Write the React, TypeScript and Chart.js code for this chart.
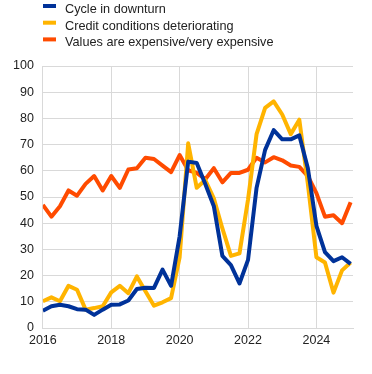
import React, { useEffect, useRef } from "react";
import { Chart, registerables } from "chart.js";

Chart.register(...registerables);

const quarters: number[] = [];
for (let y = 2016; y <= 2025; y++) {
  for (let q = 0; q < 4; q++) {
    if (y === 2025 && q > 0) break;
    quarters.push(y + q / 4);
  }
}

const seriesLabels = [
  "Cycle in downturn",
  "Credit conditions deteriorating",
  "Values are expensive/very expensive",
];

const cycleDownturn = [
  6.6, 8.3, 8.9, 8.3, 7.2, 7, 5, 7, 8.9, 9, 10.5, 14.9, 15.4, 15.3, 22.3, 16.1,
  35, 63.5, 63, 55, 46.5, 27.5, 24, 17, 26, 53.5, 68, 75.5, 72, 72, 73.5, 61,
  39, 29, 25.5, 27, 24.5,
];

const creditDeteriorating = [
  10.2, 11.7, 10.2, 16.1, 14.6, 7, 7.6, 8.3, 13.6, 16.1, 13.3, 19.7, 14, 8.5, 9.8, 11.4,
  27, 70.5, 53.5, 56.5, 49.5, 38, 27.5, 28.5, 49, 74, 84, 86.5, 81.5, 74, 79.5, 55,
  27, 25, 13.5, 22, 25,
];

const valuesExpensive = [
  47, 42.5, 46.5, 52.5, 50.5, 55, 58, 52.5, 58, 53.5, 60.5, 61, 65, 64.5, 62, 59.5,
  66, 60.2, 59.2, 56.8, 61, 55.6, 59.2, 59.2, 60.4, 65, 63.2, 65.2, 64, 62, 61.5, 58,
  51.5, 42.5, 43, 40, 48,
];

const colors = ["#003299", "#ffb400", "#ff4b00"];

const xTicks = [2016, 2018, 2020, 2022, 2024];

const FONT = "'Liberation Sans', Arial, sans-serif";

const legendPlugin = {
  id: "customLegend",
  afterDraw(chart: any) {
    const ctx = chart.ctx;
    ctx.save();
    ctx.font = `12.7px ${FONT}`;
    ctx.textBaseline = "middle";
    ctx.textAlign = "left";
    chart.data.datasets.forEach((ds: any, i: number) => {
      const cy = 9.5 + i * 16.7;
      ctx.fillStyle = ds.borderColor;
      ctx.fillRect(43, cy - 5.5, 13, 4);
      ctx.fillStyle = "#222";
      ctx.fillText(ds.label, 65, cy);
    });
    ctx.restore();
  },
};

export default function App() {
  const ref = useRef<HTMLCanvasElement | null>(null);
  useEffect(() => {
    document.body.style.margin = "0";
    if (!ref.current) return;
    const series = [cycleDownturn, creditDeteriorating, valuesExpensive];
    const chart = new Chart(ref.current, {
      type: "line",
      data: {
        datasets: series.map((s, i) => ({
          label: seriesLabels[i],
          data: s.map((v, j) => ({ x: quarters[j], y: v })),
          borderColor: colors[i],
          backgroundColor: colors[i],
          borderWidth: 4,
          pointRadius: 0,
          tension: 0,
          borderJoinStyle: "round" as const,
          borderCapStyle: "butt" as const,
        })),
      },
      options: {
        animation: false,
        responsive: false,
        devicePixelRatio: 1,
        layout: { padding: { top: 66, left: 4, right: 19, bottom: 21 } },
        plugins: {
          legend: { display: false },
          tooltip: { enabled: false },
        },
        scales: {
          x: {
            type: "linear",
            min: 2016,
            max: 2025.07,
            afterBuildTicks: (axis: any) => {
              axis.ticks = xTicks.map((v) => ({ value: v }));
            },
            ticks: {
              callback: (v: any) => String(v),
              font: { family: FONT, size: 12.5 },
              color: "#222",
              padding: 5,
              maxRotation: 0,
            },
            grid: { color: "#d9d9d9", drawTicks: false, lineWidth: 1 },
            border: { color: "#d9d9d9" },
          },
          y: {
            min: 0,
            max: 100,
            ticks: {
              stepSize: 10,
              font: { family: FONT, size: 12.5 },
              color: "#222",
              padding: 9,
            },
            grid: { color: "#d9d9d9", drawTicks: false, lineWidth: 1 },
            border: { color: "#d9d9d9" },
          },
        },
      },
      plugins: [legendPlugin],
    });
    return () => chart.destroy();
  }, []);
  return <canvas ref={ref} width={372} height={374} style={{ display: "block" }} />;
}
